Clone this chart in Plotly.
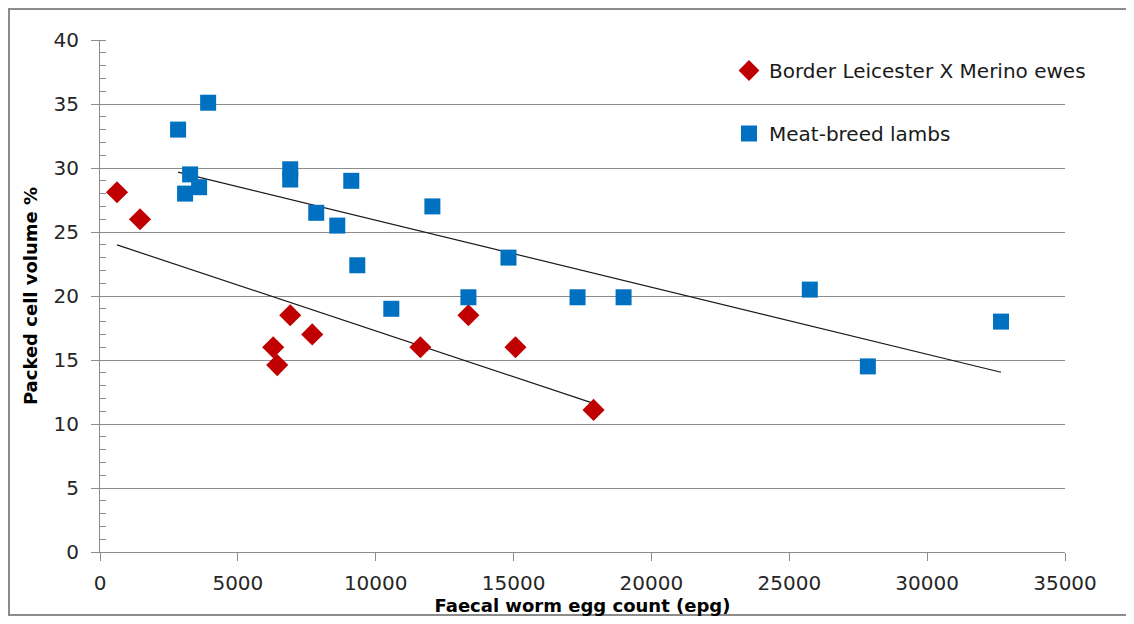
import numpy as np
import plotly.graph_objects as go

ewes_x = [617, 1452, 6282, 6427, 6899, 7698, 11620, 13362, 15069, 17901]
ewes_y = [28.1, 26.0, 16.0, 14.6, 18.5, 17.0, 16.0, 18.5, 16.0, 11.1]

lambs_x = [2832, 3922, 3086, 3268, 3595, 6899, 6899, 7843, 8606, 9114,
           9332, 10566, 12055, 13362, 14815, 17320, 18990, 25744, 27850, 32680]
lambs_y = [33.0, 35.1, 28.0, 29.5, 28.5, 29.9, 29.1, 26.5, 25.5, 29.0,
           22.4, 19.0, 27.0, 19.9, 23.0, 19.9, 19.9, 20.5, 14.5, 18.0]

names = ["Border Leicester X Merino ewes", "Meat-breed lambs"]
x_ticks = [0, 5000, 10000, 15000, 20000, 25000, 30000, 35000]
x_labels = ["0", "5000", "10000", "15000", "20000", "25000", "30000", "35000"]
y_ticks = [0, 5, 10, 15, 20, 25, 30, 35, 40]

RED = "#C00000"
BLUE = "#0070C0"
FONT = "DejaVu Sans, Open Sans, sans-serif"
GRID = "#8c8c8c"


def trend(xs, ys):
    xs = np.asarray(xs, float)
    ys = np.asarray(ys, float)
    m, b = np.polyfit(xs, ys, 1)
    tx = np.array([xs.min(), xs.max()])
    return tx, m * tx + b


fig = go.Figure()

tx, ty = trend(ewes_x, ewes_y)
fig.add_trace(go.Scatter(x=tx, y=ty, mode="lines", line=dict(color="#1a1a1a", width=1.2),
                         showlegend=False, hoverinfo="skip"))
tx, ty = trend(lambs_x, lambs_y)
fig.add_trace(go.Scatter(x=tx, y=ty, mode="lines", line=dict(color="#1a1a1a", width=1.2),
                         showlegend=False, hoverinfo="skip"))

fig.add_trace(go.Scatter(x=ewes_x, y=ewes_y, mode="markers", name=names[0], legendgroup="a",
                         marker=dict(symbol="diamond", size=17, color=RED, line=dict(width=0))))
fig.add_trace(go.Scatter(x=lambs_x, y=lambs_y, mode="markers", name=names[1], legendgroup="b",
                         marker=dict(symbol="square", size=16, color=BLUE, line=dict(width=0))))

# page is offset by 8px body margin; keep the figure inside the window (no scrollbars)
OFF = 8
W, H = 1134 - 2 * OFF, 624 - 2 * OFF
L, R, T, B = 100 - OFF, 1065 - OFF, 40 - OFF, 552 - OFF


def px(x):
    return (x - OFF - L) / (R - L)


def py(y):
    return (B - (y - OFF)) / (B - T)


# outer chart frame (right edge is cut off in the reference)
fig.add_shape(type="path", xref="paper", yref="paper",
              path=(f"M {px(1140)},{py(9)} L {px(9)},{py(9)} "
                    f"L {px(9)},{py(615)} L {px(1140)},{py(615)}"),
              line=dict(color="#8c8c8c", width=2), layer="below")

fig.update_layout(
    width=W, height=H,
    margin=dict(l=L, r=W - R, t=T, b=H - B, pad=0, autoexpand=False),
    paper_bgcolor="white", plot_bgcolor="white",
    font=dict(family=FONT, color="#262626"),
    legend=dict(x=px(729), y=py(51), xanchor="left", yanchor="top",
                font=dict(size=20, family=FONT, color="#1a1a1a"),
                tracegroupgap=34, bgcolor="rgba(0,0,0,0)", itemwidth=30),
    xaxis=dict(range=[0, 35000], tickvals=x_ticks, ticktext=x_labels, showgrid=False,
               automargin=False,
               showline=True, linecolor=GRID, linewidth=1,
               ticks="outside", ticklen=8, tickcolor=GRID, ticklabelstandoff=5,
               tickfont=dict(size=20, family=FONT, color="#262626"),
               zeroline=False,
               title=dict(text="<b>Faecal worm egg count (epg)</b>", standoff=4,
                          font=dict(size=18, family=FONT, color="#000000"))),
    yaxis=dict(range=[0, 40], tickvals=y_ticks, showgrid=True, gridcolor=GRID, gridwidth=1,
               automargin=False,
               showline=True, linecolor=GRID, linewidth=1,
               ticks="outside", ticklen=8, tickcolor=GRID, ticklabelstandoff=8,
               minor=dict(dtick=1, ticks="inside", ticklen=6, tickcolor=GRID, showgrid=False),
               tickfont=dict(size=20, family=FONT, color="#262626"),
               zeroline=False,
               title=dict(text="<b>Packed cell volume %</b>", standoff=11,
                          font=dict(size=18, family=FONT, color="#000000"))),
)

fig.write_html("out.html")
